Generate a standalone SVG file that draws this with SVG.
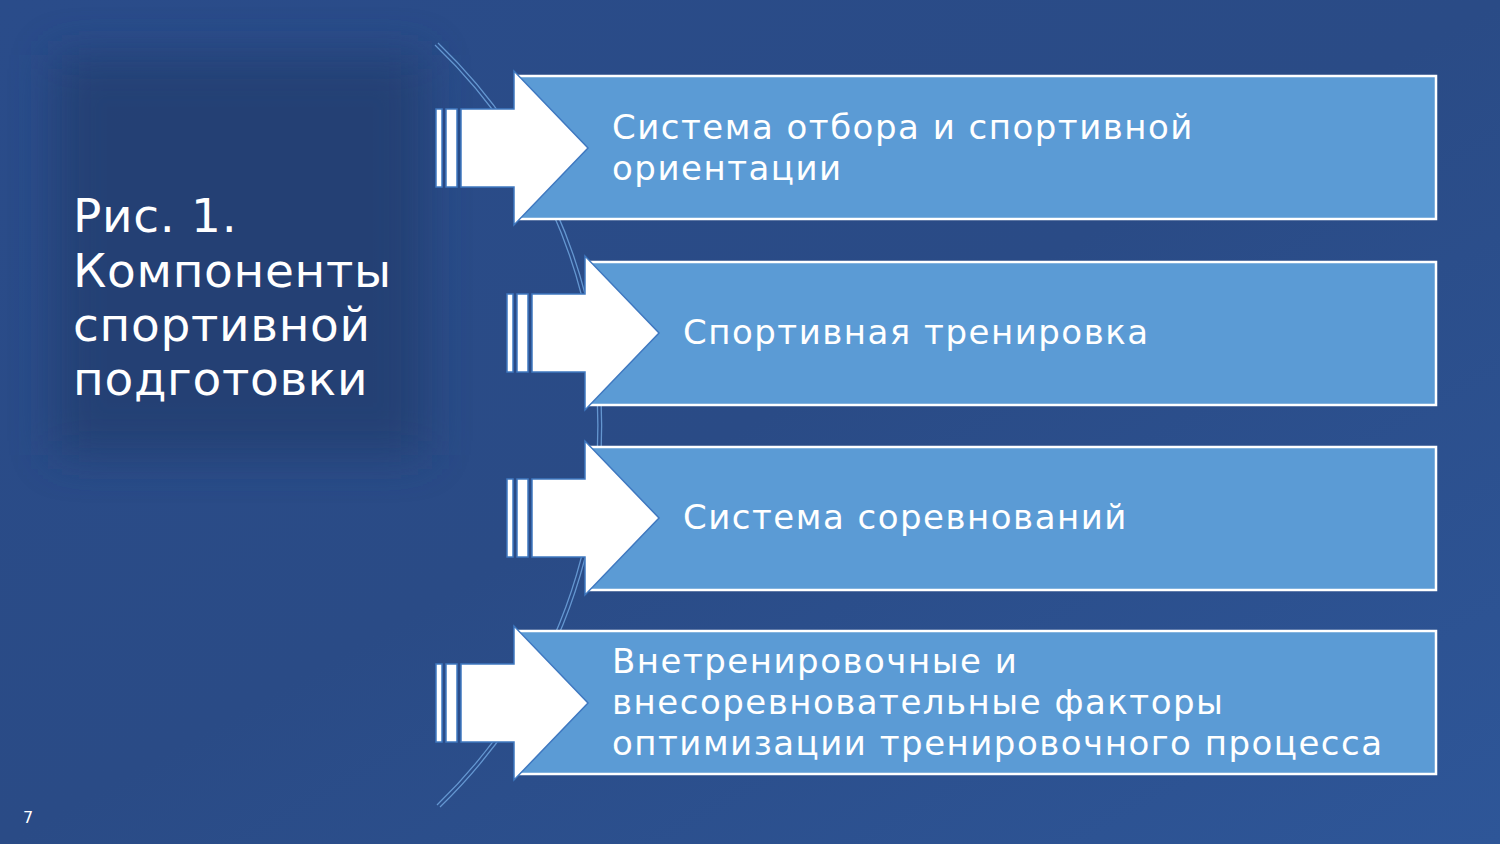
<svg xmlns="http://www.w3.org/2000/svg" width="1500" height="844" viewBox="0 0 1500 844">
<defs>
<linearGradient id="bg" x1="0" y1="0" x2="1" y2="1">
<stop offset="0" stop-color="#2a4c8a"/>
<stop offset="0.5" stop-color="#2a4b86"/>
<stop offset="1" stop-color="#2e5698"/>
</linearGradient>
<filter id="blur" x="-20%" y="-20%" width="140%" height="140%"><feGaussianBlur stdDeviation="22"/></filter>
<symbol id="arrowA" overflow="visible">
<rect x="0" y="0" width="6" height="78" fill="#fff" stroke="#3f78c0" stroke-width="1.5"/>
<rect x="10" y="0" width="11" height="78" fill="#fff" stroke="#3f78c0" stroke-width="1.5"/>
<path d="M25,0 H78 V-38 L152,39 L78,116 V78 H25 Z" fill="#fff" stroke="#3f78c0" stroke-width="1.5"/>
</symbol>
</defs>
<style>
.box{fill:#5b9bd5;stroke:#fff;stroke-width:2.5}
.t{font-family:"DejaVu Sans",Verdana,sans-serif;fill:#fff}
.tt{font-size:47px;letter-spacing:0.7px}
.bt{font-size:34px;letter-spacing:1.5px}
.arc{fill:none;stroke:#6a9fd8;stroke-width:1.3;opacity:0.9}
</style>
<rect width="1500" height="844" fill="url(#bg)"/>
<rect x="55" y="55" width="370" height="400" fill="#223d6e" filter="url(#blur)" opacity="0.75"/>
<g id="arc">
<path class="arc" d="M435,45 A527,527 0 0 1 437,805"/>
<path class="arc" d="M438,43 A530,530 0 0 1 440,807"/>
</g>
<g id="title">
<text class="t tt" x="73" y="232">Рис. 1.</text>
<text class="t tt" x="73" y="287">Компоненты</text>
<text class="t tt" x="73" y="341">спортивной</text>
<text class="t tt" x="73" y="395">подготовки</text>
</g>
<g id="connectors"></g>
<g id="n1">
<rect class="box" x="516" y="76" width="920" height="143"/>
<use href="#arrowA" x="436" y="109"/>
<text class="t bt" x="612" y="139">Система отбора и спортивной</text>
<text class="t bt" x="612" y="180">ориентации</text>
</g>
<g id="n2">
<rect class="box" x="587" y="262" width="849" height="143"/>
<use href="#arrowA" x="507" y="294"/>
<text class="t bt" x="683" y="344">Спортивная тренировка</text>
</g>
<g id="n3">
<rect class="box" x="587" y="447" width="849" height="143"/>
<use href="#arrowA" x="507" y="479"/>
<text class="t bt" x="683" y="529">Система соревнований</text>
</g>
<g id="n4">
<rect class="box" x="516" y="631" width="920" height="143"/>
<use href="#arrowA" x="436" y="664"/>
<text class="t bt" x="612" y="673">Внетренировочные и</text>
<text class="t bt" x="612" y="714">внесоревновательные факторы</text>
<text class="t bt" x="612" y="755">оптимизации тренировочного процесса</text>
</g>
<text class="t" font-size="16" x="23" y="823">7</text>
</svg>
